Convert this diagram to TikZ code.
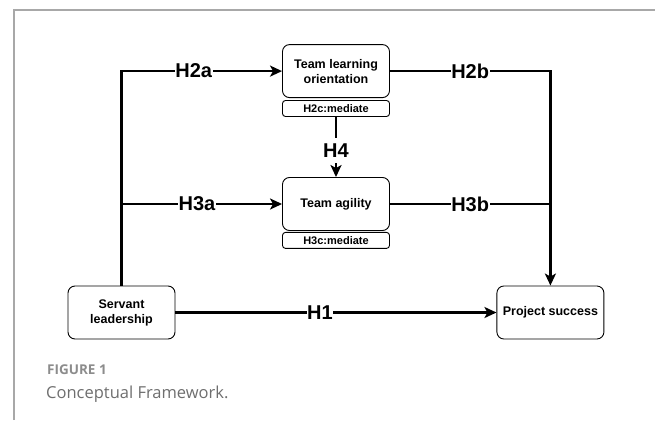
\documentclass[tikz,border=0pt]{standalone}
\usepackage{fontspec}
\setmainfont{Liberation Sans}
\newfontfamily\capfont{Open Sans}
\usetikzlibrary{arrows.meta}
\usetikzlibrary{positioning}

\definecolor{framegray}{HTML}{A8A8A8}
\definecolor{figgray}{HTML}{8C8C8C}
\definecolor{capgray}{HTML}{6E6E6E}

\begin{document}
\begin{tikzpicture}[x=1pt,y=-1pt,
    construct/.style={rectangle, rounded corners=7pt, draw=black, line width=0.9pt, minimum width=107pt, minimum height=53pt, inner sep=2pt, align=center, font=\bfseries\fontsize{12.5}{15}\selectfont},
    mediator/.style={rectangle, rounded corners=3pt, draw=black, line width=0.9pt, minimum width=107pt, minimum height=16pt, inner sep=0pt, font=\bfseries\fontsize{11}{12}\selectfont},
    hypo/.style={fill=white, inner xsep=0.5pt, inner ysep=1pt, font=\bfseries\fontsize{20}{20}\selectfont},
    link/.style={line width=2.2pt, -{Stealth[length=12pt, width=11pt, inset=3pt]}},
    wire/.style={line width=2.2pt},
    every node/.style={node distance=2pt}
    ]
    \useasboundingbox (0,0) rectangle (655,420);
    \draw[framegray, line width=1.5pt] (14,420) -- (14,10) -- (655,10);

    % constructs
    \node[construct] (servant) at (121.5,312.5) {Servant\\leadership};
    \node[construct, right=321pt of servant] (success) {Project success};
    \node[construct] (agility) at (336,204) {Team agility};
    \node[construct, above=79pt of agility] (learning) {Team learning\\orientation};
    \node[mediator, below=of learning] (medlearn) {H2c:mediate};
    \node[mediator, below=1pt of agility] (medagile) {H3c:mediate};

    % hypotheses
    \draw[link] (servant.north) |- node[hypo, pos=0.725] {H2a} (learning.west);
    \draw[link] (servant.north |- agility.west) -- node[hypo, pos=0.47] {H3a} (agility.west);
    \draw[link] (learning.east) -| node[hypo, pos=0.25] {H2b} (success.north);
    \draw[wire] (agility.east) -- node[hypo] {H3b} (agility.east -| success.north);
    \draw[link] (servant.east) -- node[hypo, pos=0.45] {H1} (success.west);
    \draw[link] (medlearn.south) -- node[hypo, inner ysep=6pt, pos=0.56] {H4} (agility.north);

    % caption
    \node[anchor=base west, inner sep=0pt, text=figgray, font=\capfont\bfseries\fontsize{13.5}{15}\selectfont] (figno) at (47,374) {FIGURE 1};
    \node[anchor=base west, inner sep=0pt, text=capgray, font=\capfont\fontsize{16.5}{19}\selectfont] (figtitle) at (46,398) {Conceptual Framework.};
\end{tikzpicture}
\end{document}
